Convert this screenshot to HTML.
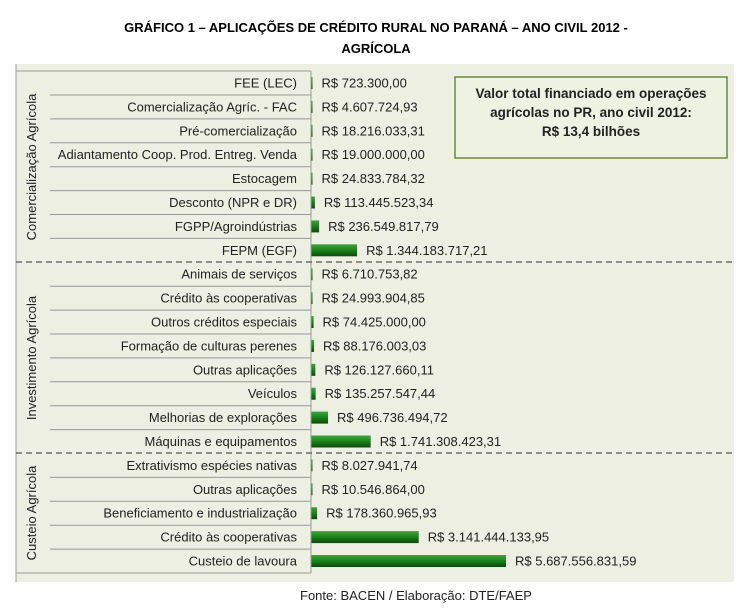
<!DOCTYPE html>
<html><head><meta charset="utf-8"><style>
body{margin:0;background:#fff;}
svg text{font-family:"Liberation Sans",sans-serif;}
</style></head><body>
<svg width="753" height="608" xmlns="http://www.w3.org/2000/svg">
<defs><linearGradient id="g" x1="0" y1="0" x2="0" y2="1">
<stop offset="0" stop-color="#3fa53f"/><stop offset="0.4" stop-color="#1f8a1f"/><stop offset="1" stop-color="#0a4a0a"/></linearGradient></defs>
<rect width="753" height="608" fill="#fff"/>
<text x="376" y="32" text-anchor="middle" font-size="13" font-weight="bold">GRÁFICO 1 – APLICAÇÕES DE CRÉDITO RURAL NO PARANÁ – ANO CIVIL 2012 -</text>
<text x="376" y="53" text-anchor="middle" font-size="13" font-weight="bold">AGRÍCOLA</text>
<rect x="16" y="64" width="718" height="518" fill="#ecefe1"/>
<g id="rows" font-size="13" fill="#222"></g>
<rect x="455" y="77" width="272" height="81" fill="#eef2e2" stroke="#6b8a3e" stroke-width="1.5"/>
<g font-size="13.5" font-weight="bold" text-anchor="middle" fill="#222">
<text x="591" y="98">Valor total financiado em operações</text>
<text x="591" y="117">agrícolas no PR, ano civil 2012:</text>
<text x="591" y="136">R$ 13,4 bilhões</text></g>
<text x="300" y="600" font-size="13" fill="#222">Fonte: BACEN / Elaboração: DTE/FAEP</text>
</svg>
<script>
const d=[["FEE (LEC)",0.7233,"R$ 723.300,00"],["Comercialização Agríc. - FAC",4.6,"R$ 4.607.724,93"],["Pré-comercialização",18.2,"R$ 18.216.033,31"],["Adiantamento Coop. Prod. Entreg. Venda",19,"R$ 19.000.000,00"],["Estocagem",24.8,"R$ 24.833.784,32"],["Desconto (NPR e DR)",113.4,"R$ 113.445.523,34"],["FGPP/Agroindústrias",236.5,"R$ 236.549.817,79"],["FEPM (EGF)",1344,"R$ 1.344.183.717,21"],
["Animais de serviços",6.7,"R$ 6.710.753,82"],["Crédito às cooperativas",25,"R$ 24.993.904,85"],["Outros créditos especiais",74.4,"R$ 74.425.000,00"],["Formação de culturas perenes",88.2,"R$ 88.176.003,03"],["Outras aplicações",126.1,"R$ 126.127.660,11"],["Veículos",135.3,"R$ 135.257.547,44"],["Melhorias de explorações",496.7,"R$ 496.736.494,72"],["Máquinas e equipamentos",1741.3,"R$ 1.741.308.423,31"],
["Extrativismo espécies nativas",8,"R$ 8.027.941,74"],["Outras aplicações",10.5,"R$ 10.546.864,00"],["Beneficiamento e industrialização",178.4,"R$ 178.360.965,93"],["Crédito às cooperativas",3141.4,"R$ 3.141.444.133,95"],["Custeio de lavoura",5687.6,"R$ 5.687.556.831,59"]];
let s='';const P=23.9,ax=311;
s+=`<line x1="16" y1="71" x2="${ax}" y2="71" stroke="#999"/>`;
d.forEach((r,i)=>{const c=83+i*P;const w=Math.max(1.5,r[1]*195/5687.6);
s+=`<text x="297" y="${c+4.5}" text-anchor="end">${r[0]}</text>`;
s+=`<rect x="${ax}" y="${c-6}" width="${w}" height="12" fill="url(#g)"/>`;
s+=`<text x="${ax+w+9}" y="${c+4.5}">${r[2]}</text>`;
if(i!=7&&i!=15&&i!=20)s+=`<line x1="50" y1="${c+12}" x2="${ax}" y2="${c+12}" stroke="#999"/>`;});
s+=`<line x1="16" y1="573" x2="${ax}" y2="573" stroke="#999"/>`;
s+=`<line x1="${ax}" y1="71" x2="${ax}" y2="573" stroke="#999"/>`;
s+=`<line x1="16" y1="64" x2="16" y2="582" stroke="#999"/>`;
[262,453].forEach(y=>s+=`<line x1="16" y1="${y}" x2="734" y2="${y}" stroke="#555" stroke-width="1.3" stroke-dasharray="6,4"/>`);
[["Comercialização Agrícola",167],["Investimento Agrícola",358],["Custeio Agrícola",513]].forEach(a=>s+=`<text transform="translate(36,${a[1]}) rotate(-90)" text-anchor="middle">${a[0]}</text>`);
document.getElementById('rows').innerHTML=s;
</script>
</body></html>
